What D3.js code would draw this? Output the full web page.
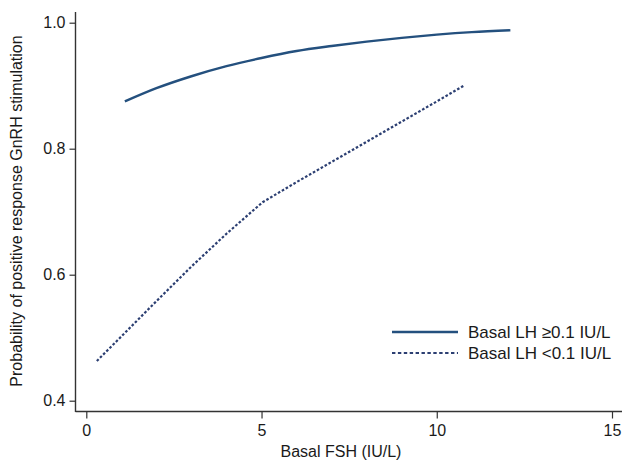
<!DOCTYPE html>
<html>
<head>
<meta charset="utf-8">
<script src="https://cdn.jsdelivr.net/npm/d3@7"></script>
<style>
  body { margin: 0; background: #fff; }
  svg text { font-family: "Liberation Sans", Arial, sans-serif; fill: #1a1a1a; }
</style>
</head>
<body>
<div id="chart"></div>
<script>
// Basal FSH (x) values and predicted probabilities
const fshHigh = [1.1, 2, 3, 4, 5, 6, 7, 8, 9, 10, 11, 12.1];
const probHigh = [0.875, 0.896, 0.915, 0.931, 0.944, 0.955, 0.963, 0.970, 0.976, 0.981, 0.985, 0.988];
const fshLow = [0.3, 1, 2, 3, 4, 5.03, 6, 7, 8, 9, 10, 10.8];
const probLow = [0.463, 0.502, 0.558, 0.613, 0.665, 0.715, 0.747, 0.779, 0.811, 0.843, 0.875, 0.901];
const xTicks = [0, 5, 10, 15];
const yTicks = [0.4, 0.6, 0.8, 1.0];
const legendLabels = ["Basal LH \u22650.1 IU/L", "Basal LH <0.1 IU/L"];

const W = 624, H = 462;
const solidColor = "#24507e", dotColor = "#2c3f72", axisColor = "#333";

const svg = d3.select("#chart").append("svg")
    .attr("width", W)
    .attr("height", H);

const x = d3.scaleLinear().domain([0, 15]).range([86.3, 612]);
const y = d3.scaleLinear().domain([0.4, 1.0]).range([400.7, 22.7]);

// plot frame lines (left + bottom)
svg.append("line")
    .attr("x1", 75.5).attr("x2", 622)
    .attr("y1", 411.5).attr("y2", 411.5)
    .attr("stroke", axisColor).attr("stroke-width", 1.4);
svg.append("line")
    .attr("x1", 75.5).attr("x2", 75.5)
    .attr("y1", 12).attr("y2", 412)
    .attr("stroke", axisColor).attr("stroke-width", 1.4);

let xAxis = svg.append("g")
    .attr("transform", "translate(0,411.5)")
    .call(d3.axisBottom(x).tickValues(xTicks).tickFormat(d3.format("d")).tickSize(7).tickPadding(6));
xAxis.select(".domain").remove();

let yAxis = svg.append("g")
    .attr("transform", "translate(75.5,0)")
    .call(d3.axisLeft(y).tickValues(yTicks).tickFormat(d3.format(".1f")).tickSize(6).tickPadding(4));
yAxis.select(".domain").remove();

svg.selectAll(".tick line").attr("stroke", axisColor).attr("stroke-width", 1.2);
svg.selectAll(".tick text").style("font-size", "16px").attr("fill", "#1a1a1a");

// axis titles
svg.append("text")
    .attr("x", 341)
    .attr("y", 457)
    .attr("text-anchor", "middle")
    .style("font-size", "16px")
    .attr("fill", "#333")
    .text("Basal FSH (IU/L)");

svg.append("text")
    .attr("transform", "translate(22,211) rotate(-90)")
    .attr("text-anchor", "middle")
    .style("font-size", "16px")
    .attr("fill", "#333")
    .text("Probability of positive response GnRH stimulation");

const line = d3.line()
    .x(d => x(d[0]))
    .y(d => y(d[1]))
    .curve(d3.curveMonotoneX);

svg.append("path")
    .datum(d3.zip(fshHigh, probHigh))
    .attr("fill", "none")
    .attr("stroke", solidColor)
    .attr("stroke-width", 2.4)
    .attr("d", line);

svg.append("path")
    .datum(d3.zip(fshLow, probLow))
    .attr("fill", "none")
    .attr("stroke", dotColor)
    .attr("stroke-width", 2.2)
    .attr("stroke-dasharray", "2.6,1.9")
    .attr("d", line.curve(d3.curveLinear));

// legend
const legend = svg.append("g").attr("transform", "translate(392,332)");
legendLabels.forEach((lbl, i) => {
    const g = legend.append("g").attr("transform", "translate(0," + (i * 21) + ")");
    g.append("line")
        .attr("x1", 0).attr("x2", 66)
        .attr("stroke", i === 0 ? solidColor : dotColor)
        .attr("stroke-width", i === 0 ? 2.4 : 2.2)
        .attr("stroke-dasharray", i === 0 ? null : "3.4,2.5");
    g.append("text")
        .attr("x", 76)
        .attr("y", 5.5)
        .style("font-size", "17px")
        .text(lbl);
});
</script>
</body>
</html>
